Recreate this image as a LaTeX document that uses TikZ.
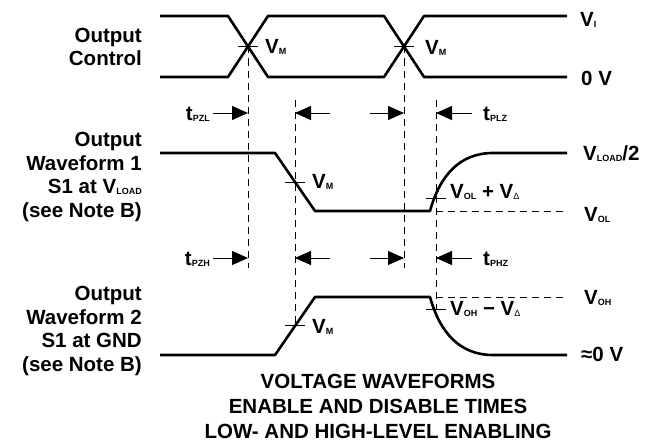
\documentclass[tikz,border=0pt]{standalone}
\usepackage{fontspec}
\setmainfont{Liberation Sans}
\usetikzlibrary{arrows.meta}
\newcommand{\sx}[1]{\raisebox{-1pt}{\fontsize{9}{9}\selectfont #1}}
\tikzset{
	wave/.style={line width=2.6pt, line join=round},
	guide/.style={line width=0.9pt, dash pattern=on 7pt off 5pt},
	vtick/.style={line width=0.8pt},
	dimarrow/.style={line width=0.9pt, -{Triangle[length=16pt, width=14pt]}},
	lbl/.style={font=\fontsize{20.5}{23.5}\selectfont\bfseries, inner sep=0pt}
}

\begin{document}
\begin{tikzpicture}[x=1pt, y=-1pt]
	\useasboundingbox (0, 0) rectangle (647, 444);
	% crossing points
	\coordinate (c1) at (248, 46.5);
	\coordinate (c2) at (404, 46.5);
	\coordinate (m1) at (295, 182);
	\coordinate (d1) at (436, 198);
	\coordinate (m2) at (295, 325);
	\coordinate (d2) at (436, 309);
	% output control
	\draw[wave](160, 16)--(228, 16)--(268, 77)--(384, 77)--(424, 16)--(567, 16);
	\draw[wave](160, 77)--(228, 77)--(268, 16)--(384, 16)--(424, 77)--(567, 77);
	% output waveform 1
	\draw[wave](160, 153)--(275, 153)--(315, 211)--(430, 211) .. controls (440, 175) and (460, 153) .. (493, 153)--(567, 153);
	% output waveform 2
	\draw[wave](160, 355)--(275, 355)--(315, 297)--(430, 297) .. controls (440, 333) and (460, 355) .. (493, 355)--(567, 355);
	% guides
	\coordinate (g1) at (248, 268);
	\coordinate (g2) at (404, 268);
	\coordinate (g3t) at (295, 100);
	\coordinate (g4t) at (436, 100);
	\draw[guide](c1)--(g1);
	\draw[guide](c2)--(g2);
	\draw[guide](g3t)--(m2);
	\draw[guide](g4t)--(d2);
	\coordinate (vol) at (567, 211);
	\coordinate (voh) at (567, 297);
	\draw[guide](436, 211)--(vol);
	\draw[guide](436, 297)--(voh);
	% ticks
	\foreach \p in {c1, c2, m1, d1, m2, d2}
		\draw[vtick]([xshift=-10pt]\p)--([xshift=10pt]\p);
	% time arrows
	\node[lbl, anchor=east] (tpzl) at (210, 114) {t\sx{PZL}};
	\node[lbl, anchor=west] (tplz) at (483, 114) {t\sx{PLZ}};
	\node[lbl, anchor=east] (tpzh) at (210, 259) {t\sx{PZH}};
	\node[lbl, anchor=west] (tphz) at (483, 259) {t\sx{PHZ}};
	\draw[dimarrow](tpzl.east)++(3, -1)--(248, 113);
	\draw[dimarrow](330, 113)--(295, 113);
	\draw[dimarrow](370, 113)--(404, 113);
	\draw[dimarrow](tplz.west)++(-11, -1)--(436, 113);
	\draw[dimarrow](tpzh.east)++(3, -1)--(248, 258);
	\draw[dimarrow](330, 258)--(295, 258);
	\draw[dimarrow](370, 258)--(404, 258);
	\draw[dimarrow](tphz.west)++(-11, -1)--(436, 258);
	% level labels
	\node[lbl, anchor=west] (vm1) at (265, 47) {V\sx{M}};
	\node[lbl, anchor=west] (vm2) at (425, 48) {V\sx{M}};
	\node[lbl, anchor=west] (vm3) at (312, 182) {V\sx{M}};
	\node[lbl, anchor=west] (vm4) at (312, 327) {V\sx{M}};
	\node[lbl, anchor=west] (vold) at (450, 192) {V\sx{OL} + V\sx{\textmd{Δ}}};
	\node[lbl, anchor=west] (vohd) at (450, 309) {V\sx{OH} − V\sx{\textmd{Δ}}};
	\node[lbl, anchor=west] (vi) at (580, 20) {V\sx{I}};
	\node[lbl, anchor=west] (zero) at (581, 78) {0 V};
	\node[lbl, anchor=west] (vload) at (583, 154) {V\sx{LOAD}/2};
	\node[lbl, anchor=west] (volt) at (584, 215) {V\sx{OL}};
	\node[lbl, anchor=west] (voht) at (584, 298) {V\sx{OH}};
	\node[lbl, anchor=west] (gnd) at (581, 354) {≈0 V};
	% signal names
	\node[lbl, align=right, anchor=east] (ctl) at (142, 47) {Output\\Control};
	\node[lbl, align=right, anchor=east] (wf1) at (142, 177) {Output\\Waveform 1\\S1 at V\sx{LOAD}\\(see Note B)};
	\node[lbl, align=right, anchor=east] (wf2) at (142, 331) {Output\\Waveform 2\\S1 at GND\\(see Note B)};
	% caption
	\node[lbl, align=center, anchor=north, font=\fontsize{20.5}{25}\selectfont\bfseries] (cap) at (378, 374) {VOLTAGE WAVEFORMS\\ENABLE AND DISABLE TIMES\\LOW- AND HIGH-LEVEL ENABLING};
\end{tikzpicture}
\end{document}
